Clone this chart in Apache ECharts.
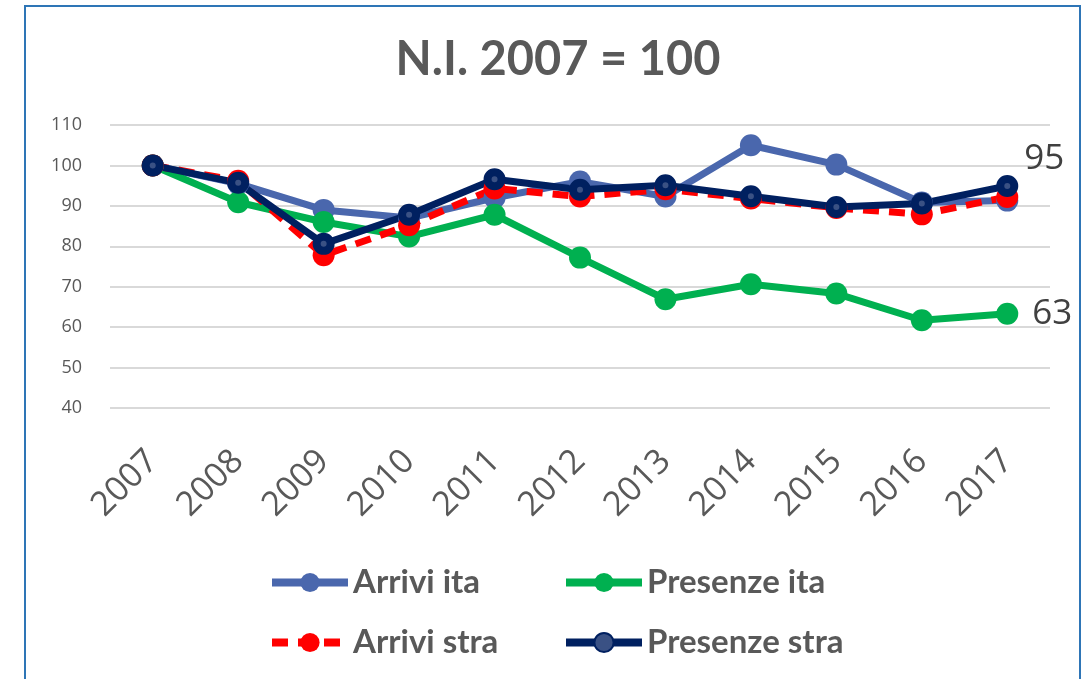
<!DOCTYPE html>
<html>
<head>
<meta charset="utf-8">
<script src="https://cdn.jsdelivr.net/npm/echarts@6/dist/echarts.min.js"></script>
<style>
  html, body { margin: 0; padding: 0; background: #fff; }
  #chart { width: 1087px; height: 679px; }
</style>
</head>
<body>
<div id="chart"></div>
<script>
// anni
const years = ["2007", "2008", "2009", "2010", "2011", "2012", "2013", "2014", "2015", "2016", "2017"];
// numeri indice 2007 = 100
const arriviIta = [100, 95.5, 89, 87, 92, 96, 92.3, 105, 100.2, 90.8, 91.3];
const presenzeIta = [100, 90.9, 86, 82.4, 87.8, 77.2, 66.9, 70.6, 68.3, 61.7, 63.3];
const arriviStra = [100, 96.2, 77.8, 85.2, 94.3, 92.3, 94.1, 91.8, 89.5, 87.9, 92.2];
const presenzeStra = [100, 95.7, 80.6, 87.8, 96.6, 94, 95.1, 92.4, 89.7, 90.6, 94.9];
const yTicks = { min: 40, max: 110, step: 10 };

const chart = echarts.init(document.getElementById("chart"));
const grey = "#595959";

// etichetta solo sull'ultimo punto
function lastLabel(dist, dy) {
  return {
    show: true,
    position: "right",
    distance: dist,
    offset: [0, dy],
    fontSize: 35,
    fontFamily: "Open Sans",
    color: "#404040",
    formatter: function (p) {
      return p.dataIndex === years.length - 1 ? Math.round(p.value) : "";
    }
  };
}

function legendAt(name, left, top) {
  return {
    data: [name],
    left: left,
    top: top,
    padding: 0,
    itemWidth: 76,
    itemHeight: 24,
    lineStyle: { width: 8 },
    textStyle: { fontFamily: "Lato", fontWeight: "bold", fontSize: 33, color: grey }
  };
}

const option = {
  animation: false,
  title: {
    text: "N.I. 2007 = 100",
    left: 553,
    textAlign: "center",
    top: 31,
    textStyle: { fontFamily: "Lato", fontWeight: "bold", fontSize: 47, color: grey }
  },
  graphic: [{
    type: "rect",
    shape: { x: 25, y: 6, width: 1055, height: 700 },
    style: { fill: "none", stroke: "#2E75B6", lineWidth: 2 }
  }],
  legend: [
    legendAt("Arrivi ita", 268, 566),
    legendAt("Presenze ita", 562, 566),
    legendAt("Arrivi stra", 268, 626),
    legendAt("Presenze stra", 562, 626)
  ],
  grid: { left: 110, right: 37, top: 125, bottom: 271 },
  xAxis: {
    type: "category",
    data: years,
    boundaryGap: true,
    axisLine: { show: false },
    axisTick: { show: false },
    axisLabel: { rotate: 45, margin: 48, fontSize: 34, fontFamily: "Open Sans", color: grey }
  },
  yAxis: {
    type: "value",
    min: yTicks.min,
    max: yTicks.max,
    interval: yTicks.step,
    axisLine: { show: false },
    axisTick: { show: false },
    axisLabel: { margin: 28, fontSize: 18, fontFamily: "Open Sans", color: grey },
    splitLine: { lineStyle: { color: "#D9D9D9", width: 2 } }
  },
  series: [
    {
      name: "Arrivi ita",
      type: "line",
      data: arriviIta,
      symbol: "circle",
      symbolSize: 22,
      color: "#4A67AD",
      lineStyle: { width: 7, color: "#4A67AD" },
      itemStyle: { color: "#4A67AD" }
    },
    {
      name: "Presenze ita",
      type: "line",
      data: presenzeIta,
      symbol: "circle",
      symbolSize: 22,
      color: "#00B050",
      lineStyle: { width: 7, color: "#00B050" },
      itemStyle: { color: "#00B050" },
      label: lastLabel(14, 0)
    },
    {
      name: "Arrivi stra",
      type: "line",
      data: arriviStra,
      symbol: "circle",
      symbolSize: 22,
      color: "#FF0000",
      lineStyle: { width: 7, color: "#FF0000", type: [16, 10] },
      itemStyle: { color: "#FF0000" }
    },
    {
      name: "Presenze stra",
      type: "line",
      data: presenzeStra,
      symbol: "circle",
      symbolSize: 14,
      color: "#002060",
      lineStyle: { width: 7, color: "#002060" },
      itemStyle: { color: "#3A5184", borderColor: "#002060", borderWidth: 8 },
      label: lastLabel(6, -27)
    }
  ]
};

chart.setOption(option);
</script>
</body>
</html>
